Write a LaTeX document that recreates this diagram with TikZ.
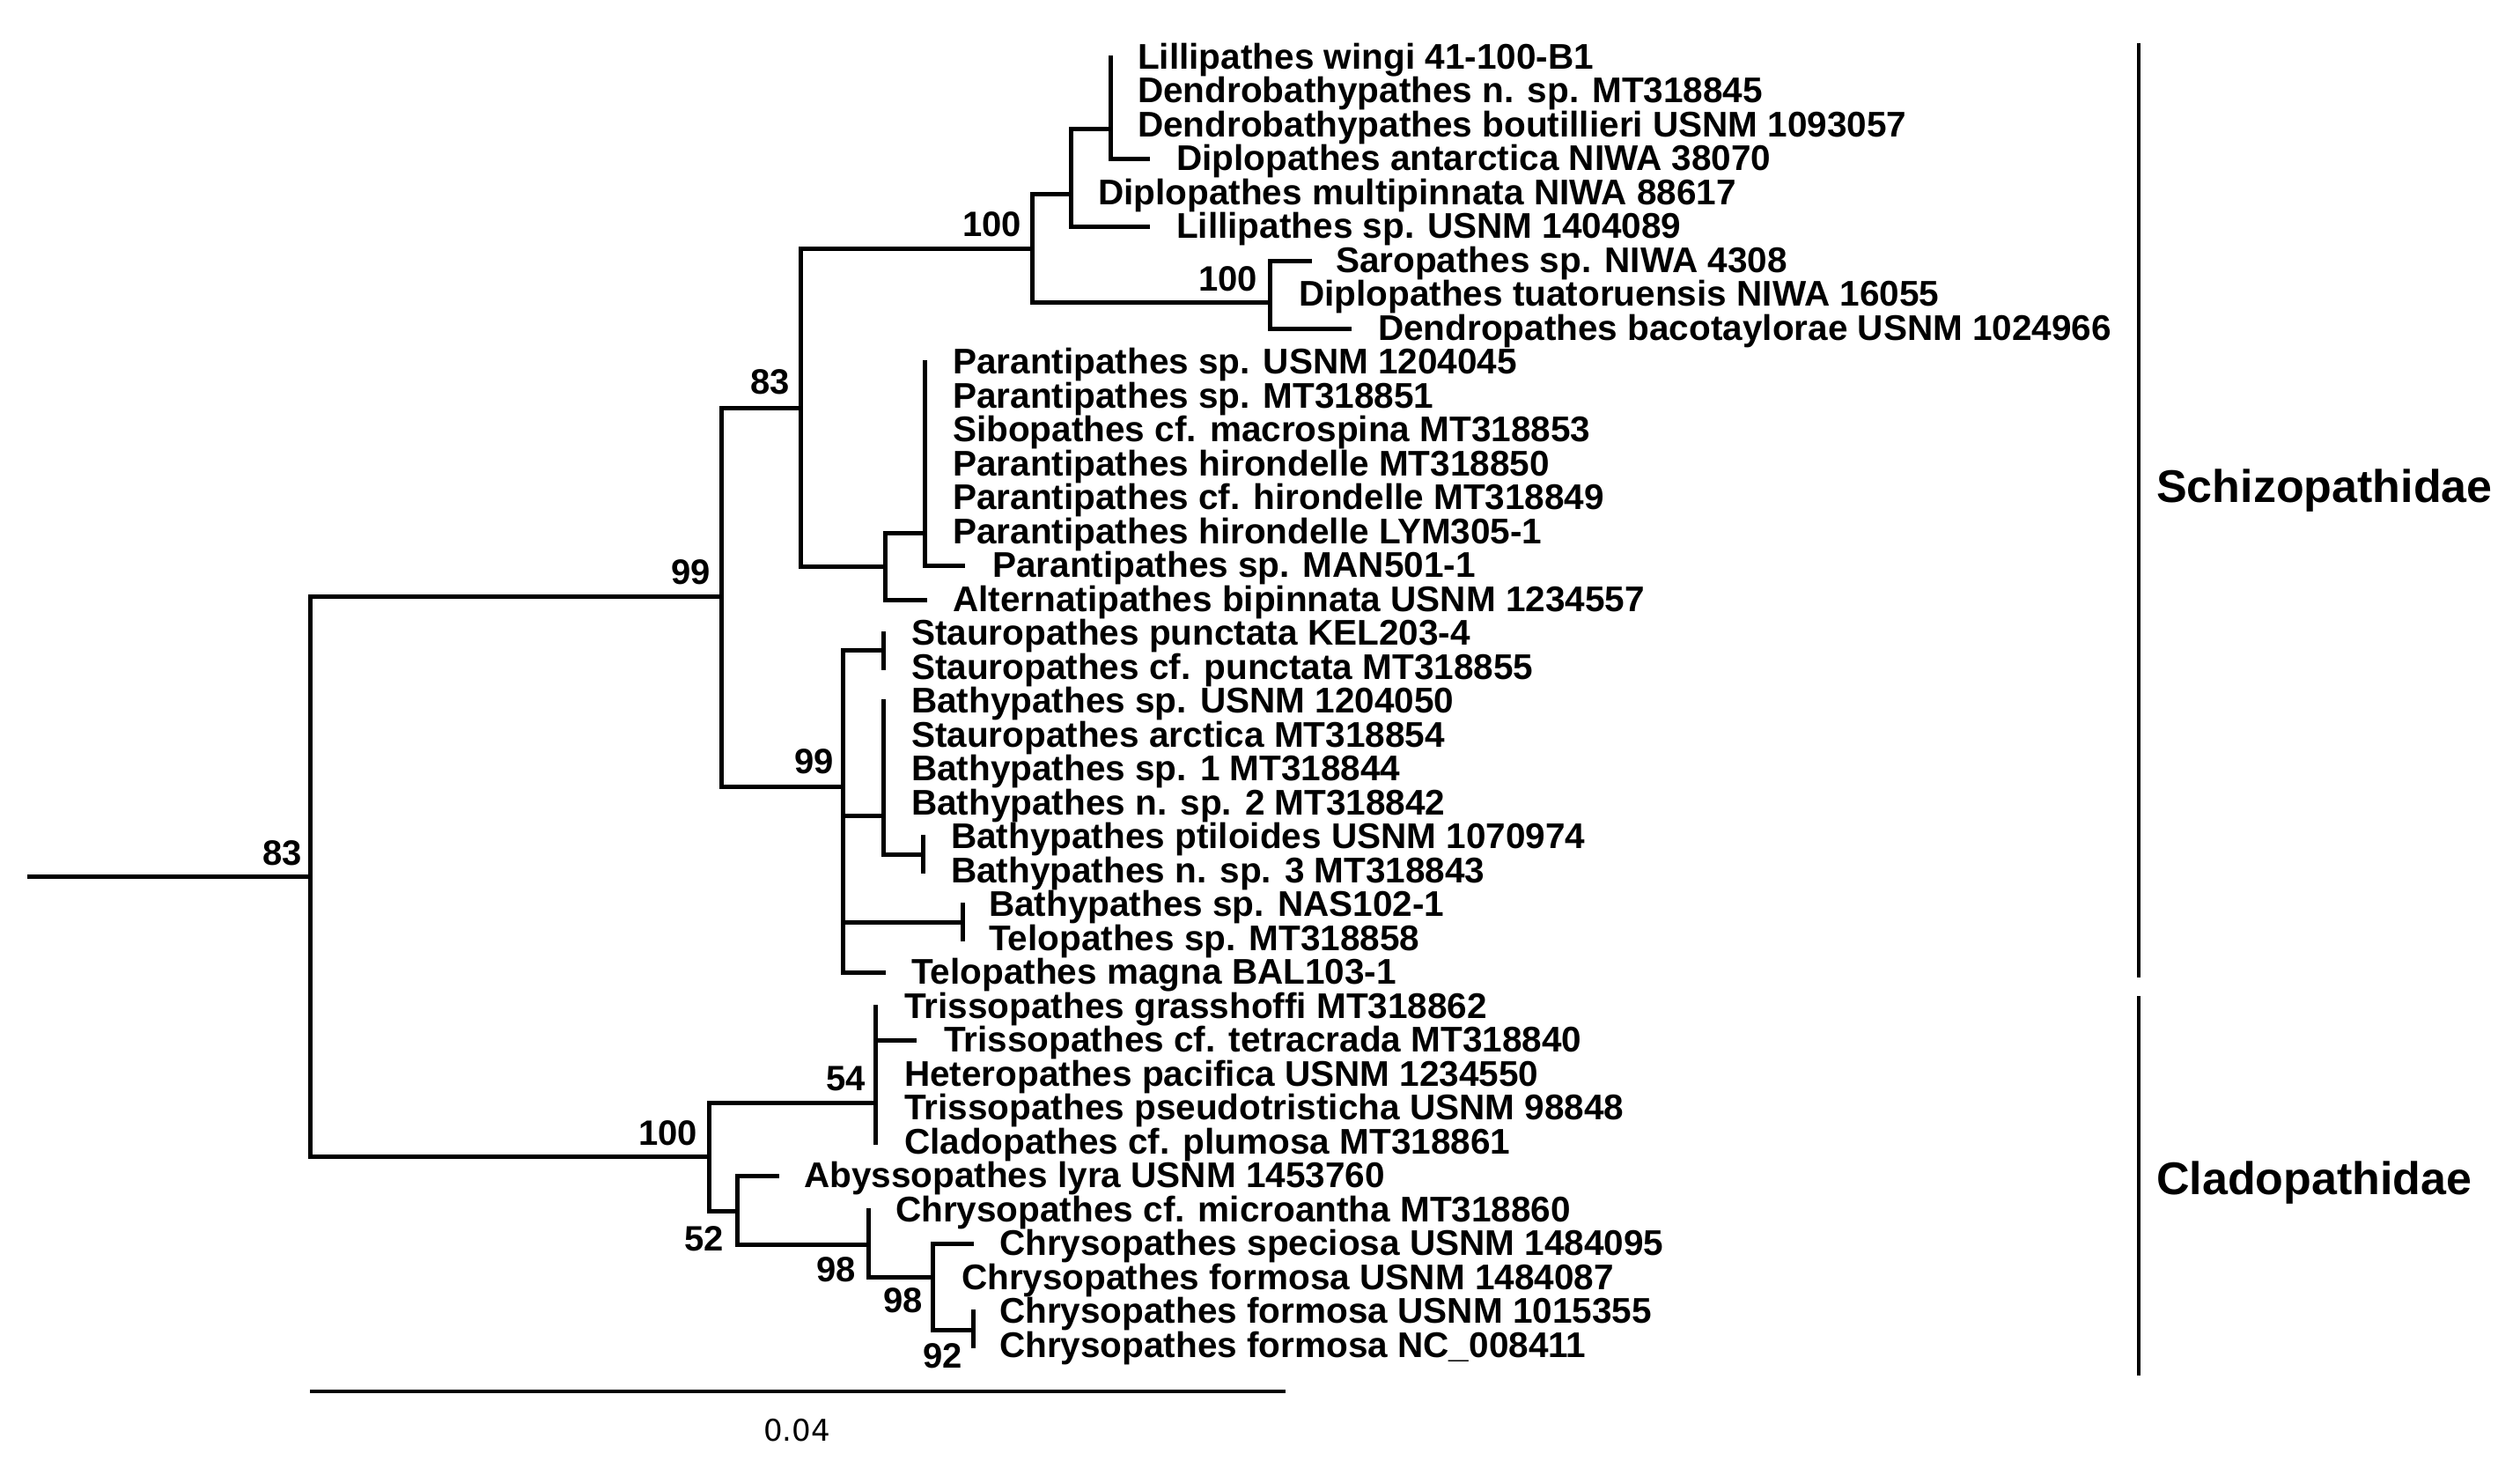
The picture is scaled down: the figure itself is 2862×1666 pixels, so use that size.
\documentclass[tikz,border=0pt]{standalone}
\usepackage{fontspec}
\setmainfont{Liberation Sans}
\newfontfamily\djv{DejaVu Sans}
\begin{document}
\begin{tikzpicture}[x=1pt,y=-1pt,
  br/.style={line width=5pt,line cap=rect},
  leaf/.style={anchor=base west,inner sep=0pt,font=\fontsize{40.5}{42}\selectfont\bfseries,yshift=-13pt},
  bs/.style={anchor=base east,inner sep=0pt,font=\fontsize{40}{42}\selectfont\bfseries},
  fam/.style={anchor=west,inner sep=0pt,font=\fontsize{52}{56}\selectfont\bfseries}]
\useasboundingbox (0,0) rectangle (2862,1666);
\newcommand{\lf}[4]{\node[leaf] (#1) at (#2,{65+38.5*#3}) {#4};}
% leaves
\lf{l0}{1292}{0}{Lillipathes wingi 41-100-B1}
\lf{l1}{1292}{1}{Dendrobathypathes n. sp. MT318845}
\lf{l2}{1292}{2}{Dendrobathypathes boutillieri USNM 1093057}
\lf{l3}{1336}{3}{Diplopathes antarctica NIWA 38070}
\lf{l4}{1247}{4}{Diplopathes multipinnata NIWA 88617}
\lf{l5}{1336}{5}{Lillipathes sp. USNM 1404089}
\lf{l6}{1517}{6}{Saropathes sp. NIWA 4308}
\lf{l7}{1475}{7}{Diplopathes tuatoruensis NIWA 16055}
\lf{l8}{1565}{8}{Dendropathes bacotaylorae USNM 1024966}
\lf{l9}{1082}{9}{Parantipathes sp. USNM 1204045}
\lf{l10}{1082}{10}{Parantipathes sp. MT318851}
\lf{l11}{1082}{11}{Sibopathes cf. macrospina MT318853}
\lf{l12}{1082}{12}{Parantipathes hirondelle MT318850}
\lf{l13}{1082}{13}{Parantipathes cf. hirondelle MT318849}
\lf{l14}{1082}{14}{Parantipathes hirondelle LYM305-1}
\lf{l15}{1127}{15}{Parantipathes sp. MAN501-1}
\lf{l16}{1082}{16}{Alternatipathes bipinnata USNM 1234557}
\lf{l17}{1035}{17}{Stauropathes punctata KEL203-4}
\lf{l18}{1035}{18}{Stauropathes cf. punctata MT318855}
\lf{l19}{1035}{19}{Bathypathes sp. USNM 1204050}
\lf{l20}{1035}{20}{Stauropathes arctica MT318854}
\lf{l21}{1035}{21}{Bathypathes sp. 1 MT318844}
\lf{l22}{1035}{22}{Bathypathes n. sp. 2 MT318842}
\lf{l23}{1080}{23}{Bathypathes ptiloides USNM 1070974}
\lf{l24}{1080}{24}{Bathypathes n. sp. 3 MT318843}
\lf{l25}{1123}{25}{Bathypathes sp. NAS102-1}
\lf{l26}{1123}{26}{Telopathes sp. MT318858}
\lf{l27}{1035}{27}{Telopathes magna BAL103-1}
\lf{l28}{1027}{28}{Trissopathes grasshoffi MT318862}
\lf{l29}{1072}{29}{Trissopathes cf. tetracrada MT318840}
\lf{l30}{1027}{30}{Heteropathes pacifica USNM 1234550}
\lf{l31}{1027}{31}{Trissopathes pseudotristicha USNM 98848}
\lf{l32}{1027}{32}{Cladopathes cf. plumosa MT318861}
\lf{l33}{913}{33}{Abyssopathes lyra USNM 1453760}
\lf{l34}{1017}{34}{Chrysopathes cf. microantha MT318860}
\lf{l35}{1135}{35}{Chrysopathes speciosa USNM 1484095}
\lf{l36}{1092}{36}{Chrysopathes formosa USNM 1484087}
\lf{l37}{1135}{37}{Chrysopathes formosa USNM 1015355}
\lf{l38}{1135}{38}{Chrysopathes formosa NC\_008411}
% tree
\coordinate (root) at (33,995);
\draw[br] (root) -- (352,995);
\draw[br] (352,677) -- (352,1313);
% Schizopathidae
\draw[br] (352,677) -- (819,677) (819,463) -- (819,893);
\draw[br] (819,463) -- (909,463) (909,282) -- (909,643);
\draw[br] (909,282) -- (1172,282) (1172,220) -- (1172,343);
\draw[br] (1172,220) -- (1216,220) (1216,146) -- (1216,257.5) -- (1303,257.5);
\draw[br] (1216,146) -- (1261,146) (1261,65) -- (1261,180.5) -- (1303,180.5);
\draw[br] (1172,343) -- (1442,343) (1442,296) -- (1442,373) -- (1532,373);
\draw[br] (1442,296) -- (1487,296);
\draw[br] (909,643) -- (1005,643) (1005,605) -- (1005,681) -- (1050,681);
\draw[br] (1005,605) -- (1050,605) (1050,411.5) -- (1050,642.5) -- (1093,642.5);
\draw[br] (819,893) -- (957,893) (957,738) -- (957,1104.5) -- (1003,1104.5);
\draw[br] (957,738) -- (1003,738) (1003,719.5) -- (1003,758);
\draw[br] (957,926) -- (1003,926) (1003,796.5) -- (1003,970) -- (1048,970) (1048,950.5) -- (1048,989);
\draw[br] (957,1047) -- (1093,1047) (1093,1027.5) -- (1093,1066);
% Cladopathidae
\draw[br] (352,1313) -- (805,1313) (805,1252) -- (805,1375);
\draw[br] (805,1252) -- (994,1252) (994,1143) -- (994,1297);
\draw[br] (994,1181.5) -- (1038,1181.5);
\draw[br] (805,1375) -- (837,1375) (837,1335.5) -- (837,1413);
\draw[br] (837,1335.5) -- (882,1335.5);
\draw[br] (837,1413) -- (986,1413) (986,1374) -- (986,1450);
\draw[br] (986,1450) -- (1059,1450) (1059,1412.5) -- (1059,1510);
\draw[br] (1059,1412.5) -- (1103,1412.5);
\draw[br] (1059,1510) -- (1105,1510) (1105,1489.5) -- (1105,1528);
% bootstrap
\node[bs] (b1) at (343,982) {83};
\node[bs] (b2) at (807,663) {99};
\node[bs] (b3) at (897,447) {83};
\node[bs] (b4) at (1160,268) {100};
\node[bs] (b5) at (1428,330) {100};
\node[bs] (b6) at (947,878) {99};
\node[bs] (b7) at (792,1300) {100};
\node[bs] (b8) at (983,1238) {54};
\node[bs] (b9) at (822,1420) {52};
\node[bs] (b10) at (972,1455) {98};
\node[bs] (b11) at (1048,1490) {98};
\node[bs] (b12) at (1093,1553) {92};
% scale bar
\coordinate (s0) at (352,1580);
\coordinate (s1) at (1460,1580);
\draw[line width=4pt] (s0) -- (s1);
\node[inner sep=0pt,font=\djv\fontsize{34}{36}\selectfont,anchor=base] (sc) at (905,1636) {0.04};
% clade bars
\coordinate (c0) at (2429,49); \coordinate (c1) at (2429,1110);
\coordinate (c2) at (2429,1131); \coordinate (c3) at (2429,1562);
\draw[line width=4pt] (c0) -- (c1) (c2) -- (c3);
\node[fam] (f1) at (2449,557) {Schizopathidae};
\node[fam] (f2) at (2449,1343) {Cladopathidae};
\end{tikzpicture}
\end{document}
